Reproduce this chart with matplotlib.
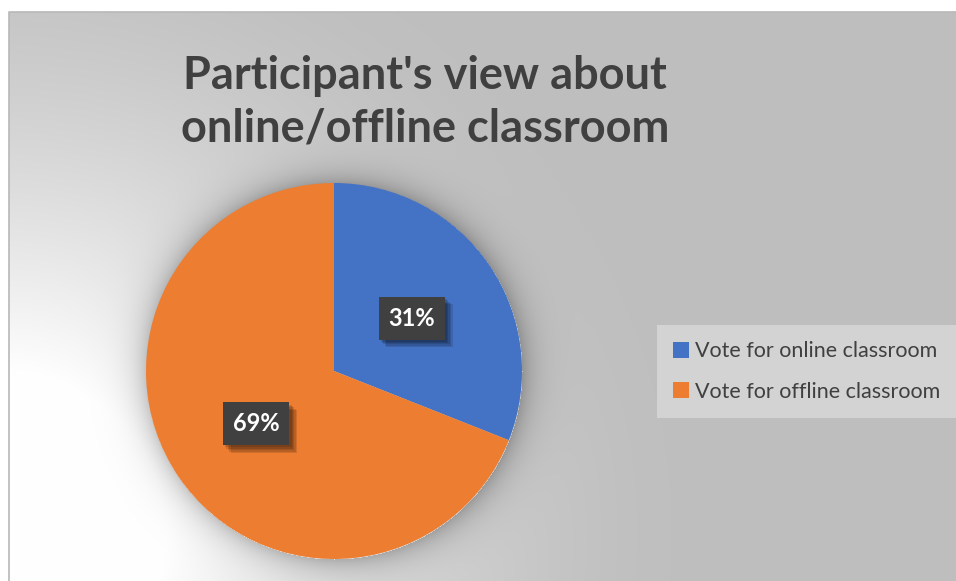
import numpy as np
import matplotlib.pyplot as plt
import matplotlib.patheffects as pe

labels = ['Vote for online classroom', 'Vote for offline classroom']
shares = [31, 69]
colors = ['#4472C4', '#ED7D31']
title = "Participant's view about\nonline/offline classroom"

W, H = 956, 581
fig = plt.figure(figsize=(W / 100, H / 100), dpi=100)

# background: grey with a soft white glow from the lower left and a halo round the pie
bg = fig.add_axes([0, 0, 1, 1])
yy, xx = np.mgrid[0:H, 0:W].astype(float)
cx, cy, r = 334, 371, 188
d = np.hypot(xx / 1.1, (yy - 530) / 1.05)
glow = np.clip(1 - (d - 150) / 460, 0, 1) ** 1.55
img = 191 + 64 * glow
dp = np.hypot(xx - cx, yy - cy) - r
halo = np.where(dp > 0, np.exp(-dp / 15), 0)
img = img - 50 * halo
img[(xx < 9) | (yy < 12)] = 255
img = np.clip(img, 0, 255) / 255
bg.imshow(np.dstack([img, img, img]), extent=(0, W, H, 0), interpolation='bilinear')
bg.plot([9, 9, W], [H, 12, 12], color='#b8b8b8', lw=1.2)
bg.set_xlim(0, W)
bg.set_ylim(H, 0)
bg.axis('off')

ax = fig.add_axes([(cx - r) / W, (H - cy - r) / H, 2 * r / W, 2 * r / H])
wedges, texts, autotexts = ax.pie(shares, colors=colors, startangle=90, counterclock=False,
                                  autopct='%1.0f%%', pctdistance=0.5, radius=1,
                                  wedgeprops=dict(linewidth=0))
ax.set_xlim(-1, 1)
ax.set_ylim(-1, 1)
ax.set_aspect('equal')
ax.axis('off')

shadow = [pe.SimplePatchShadow(offset=(o, -o), shadow_rgbFace='black', alpha=0.12)
          for o in (1.5, 2.5, 3.5, 4.5, 5.5)]
for t in autotexts:
    t.set_color('white')
    t.set_fontsize(17)
    t.set_fontweight('bold')
    t.set_fontfamily('Lato')
    t.set_bbox(dict(facecolor='#404040', edgecolor='none', boxstyle='square,pad=0.42'))
    t.get_bbox_patch().set_path_effects(shadow + [pe.Normal()])

fig.text(425 / W, 1 - 102 / H, title, ha='center', va='center', fontsize=32.5,
         fontweight='bold', family='Lato', color='#404040', linespacing=1.3)

leg = fig.legend(wedges, labels, loc='upper left', bbox_to_anchor=(657 / W, 1 - 325 / H),
                 frameon=True, fancybox=False, labelcolor='#404040',
                 prop={'family': 'Lato', 'size': 15.5}, handlelength=0.75, handleheight=0.75,
                 handletextpad=0.25, labelspacing=0.95, borderpad=0.75, borderaxespad=0)
leg.get_frame().set_facecolor('#d3d3d3')
leg.get_frame().set_edgecolor('none')
leg.get_frame().set_alpha(1)

fig.savefig('out.png', dpi=100)
